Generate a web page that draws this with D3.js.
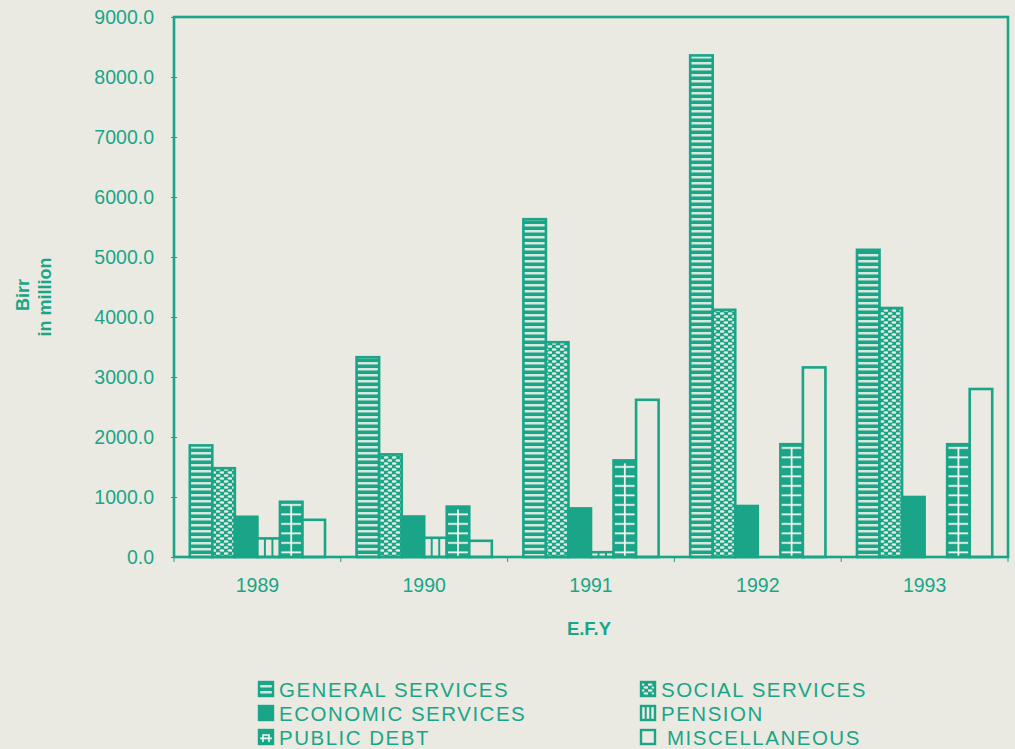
<!DOCTYPE html>
<html lang="en">
<head>
<meta charset="utf-8">
<title>Government expenditure by function</title>
<script src="https://cdn.jsdelivr.net/npm/d3@7"></script>
<style>
  body { margin: 0; background: #ebeae2; }
  svg { display: block; font-family: Arial, "Liberation Sans", sans-serif; }
</style>
</head>
<body>
<script>
// data (Birr in million)
var years = ["1989", "1990", "1991", "1992", "1993"];
var general = [1860, 3330, 5630, 8360, 5120];
var social = [1480, 1710, 3580, 4120, 4150];
var economic = [670, 675, 810, 850, 1000];
var pension = [310, 320, 80, 0, 0];
var publicDebt = [920, 840, 1610, 1880, 1880];
var misc = [620, 270, 2620, 3160, 2800];
var yTicks = [0, 1000, 2000, 3000, 4000, 5000, 6000, 7000, 8000, 9000];

var series = [
  { key: "general", name: "GENERAL SERVICES", values: general },
  { key: "social", name: "SOCIAL SERVICES", values: social },
  { key: "economic", name: "ECONOMIC SERVICES", values: economic },
  { key: "pension", name: "PENSION", values: pension },
  { key: "debt", name: "PUBLIC DEBT", values: publicDebt },
  { key: "misc", name: "MISCELLANEOUS", values: misc }
];

var teal = "#1aa588", paper = "#ebeae2";
var w = 1015, h = 749;
// plot box (note: "top" is taken by window.top, hence the prefix)
var plotL = 174, plotR = 1008, plotT = 17, plotB = 557;

var svg = d3.select("body").append("svg").attr("width", w).attr("height", h);
var defs = svg.append("defs");

// general services: light horizontal stripes on teal
var pg = defs.append("pattern").attr("id", "p-general")
  .attr("patternUnits", "userSpaceOnUse").attr("width", 6).attr("height", 6);
pg.append("rect").attr("width", 6).attr("height", 6).attr("fill", teal);
pg.append("rect").attr("y", 2).attr("width", 6).attr("height", 2.5).attr("fill", "#d6e9df");

// social services: light ovals on teal, staggered
var ps = defs.append("pattern").attr("id", "p-social")
  .attr("patternUnits", "userSpaceOnUse").attr("width", 8).attr("height", 6);
ps.append("rect").attr("width", 8).attr("height", 6).attr("fill", teal);
ps.append("ellipse").attr("cx", 2).attr("cy", 1.5).attr("rx", 2.6).attr("ry", 1.35).attr("fill", paper);
ps.append("ellipse").attr("cx", 6).attr("cy", 4.5).attr("rx", 2.6).attr("ry", 1.35).attr("fill", paper);

// public debt: white horizontal lines on teal (vertical centre line added per bar)
var pd = defs.append("pattern").attr("id", "p-debt")
  .attr("patternUnits", "userSpaceOnUse").attr("width", 6).attr("height", 9.5)
  .attr("y", plotB);
pd.append("rect").attr("width", 6).attr("height", 9.5).attr("fill", teal);
pd.append("rect").attr("y", 4).attr("width", 6).attr("height", 1.8).attr("fill", "#f4f4ee");

var fills = {
  general: "url(#p-general)", social: "url(#p-social)", economic: teal,
  pension: paper, debt: "url(#p-debt)", misc: paper
};

var x = d3.scaleBand().domain(years).range([plotL, plotR]);
var xs = d3.scaleBand().domain(series.map(function(s) { return s.key; }))
  .range([0, x.bandwidth()]).paddingOuter(0.7);
var y = d3.scaleLinear().domain([0, 9000]).range([plotB, plotT]);

// bars
var bars = [];
series.forEach(function(s) {
  s.values.forEach(function(v, i) {
    if (v > 0) bars.push({ key: s.key, year: years[i], value: v });
  });
});

var g = svg.append("g");
g.selectAll("rect.bar").data(bars).enter().append("rect")
  .attr("class", "bar")
  .attr("x", function(d) { return x(d.year) + xs(d.key); })
  .attr("y", function(d) { return y(d.value); })
  .attr("width", xs.bandwidth())
  .attr("height", function(d) { return plotB - y(d.value); })
  .attr("fill", function(d) { return fills[d.key]; })
  .attr("stroke", teal).attr("stroke-width", 2.6);

// pension: two vertical teal lines inside
var pen = bars.filter(function(d) { return d.key == "pension"; });
[1 / 3, 2 / 3].forEach(function(f) {
  g.selectAll(null).data(pen).enter().append("line")
    .attr("x1", function(d) { return x(d.year) + xs(d.key) + xs.bandwidth() * f; })
    .attr("x2", function(d) { return x(d.year) + xs(d.key) + xs.bandwidth() * f; })
    .attr("y1", function(d) { return y(d.value); })
    .attr("y2", plotB)
    .attr("stroke", teal).attr("stroke-width", 2);
});

// public debt: white centre line
var debt = bars.filter(function(d) { return d.key == "debt"; });
g.selectAll(null).data(debt).enter().append("line")
  .attr("x1", function(d) { return x(d.year) + xs(d.key) + xs.bandwidth() / 2; })
  .attr("x2", function(d) { return x(d.year) + xs(d.key) + xs.bandwidth() / 2; })
  .attr("y1", function(d) { return y(d.value) + 3; })
  .attr("y2", plotB - 1)
  .attr("stroke", "#f4f4ee").attr("stroke-width", 1.8);

// frame
svg.append("rect").attr("x", plotL).attr("y", plotT)
  .attr("width", plotR - plotL).attr("height", plotB - plotT)
  .attr("fill", "none").attr("stroke", teal).attr("stroke-width", 2.6);

// y axis
var yAxis = d3.axisLeft(y).tickValues(yTicks).tickFormat(d3.format(".1f"))
  .tickSize(3).tickPadding(17);
var ya = svg.append("g").attr("transform", "translate(" + plotL + ",0)").call(yAxis);
ya.select(".domain").remove();
ya.selectAll(".tick line").attr("x1", -3).attr("x2", 3).attr("stroke", teal).attr("stroke-width", 1);
ya.selectAll(".tick text").attr("fill", teal).attr("font-size", 19.5)
  .attr("font-family", "Arial, 'Liberation Sans', sans-serif");

// x axis
var xAxis = d3.axisBottom(x).tickSize(0).tickPadding(21);
var xa = svg.append("g").attr("transform", "translate(0," + plotB + ")").call(xAxis);
xa.select(".domain").remove();
xa.selectAll(".tick text").attr("fill", teal).attr("font-size", 19.5)
  .attr("font-family", "Arial, 'Liberation Sans', sans-serif");
// small ticks between the years
var edges = years.map(function(d) { return x(d); }).concat([plotR]);
xa.selectAll("line.edge").data(edges).enter().append("line")
  .attr("class", "edge")
  .attr("x1", function(d) { return d; }).attr("x2", function(d) { return d; })
  .attr("y1", 0).attr("y2", 5)
  .attr("stroke", teal).attr("stroke-width", 1);

// axis titles
svg.append("text").attr("x", 589).attr("y", 635).attr("text-anchor", "middle")
  .attr("fill", teal).attr("font-weight", "bold").attr("font-size", 18.5).text("E.F.Y");
svg.append("text").attr("transform", "translate(29,295) rotate(-90)").attr("text-anchor", "middle")
  .attr("fill", teal).attr("font-weight", "bold").attr("font-size", 18).text("Birr");
svg.append("text").attr("transform", "translate(51,297) rotate(-90)").attr("text-anchor", "middle")
  .attr("fill", teal).attr("font-weight", "bold").attr("font-size", 18).text("in million");

// legend
var legendPos = {
  general: [258, 689], economic: [258, 713], debt: [258, 737],
  social: [640, 689], pension: [640, 713], misc: [640, 737]
};
var lg = svg.append("g").selectAll("g").data(series).enter().append("g")
  .attr("transform", function(d) { return "translate(" + legendPos[d.key][0] + "," + legendPos[d.key][1] + ")"; });
lg.append("rect").attr("x", 1).attr("y", -7).attr("width", 14).attr("height", 14)
  .attr("fill", function(d) { return fills[d.key]; })
  .attr("stroke", teal).attr("stroke-width", 2.4);
lg.filter(function(d) { return d.key == "pension"; }).selectAll("line")
  .data([5.7, 10.3]).enter().append("line")
  .attr("x1", function(d) { return d; }).attr("x2", function(d) { return d; })
  .attr("y1", -7).attr("y2", 7).attr("stroke", teal).attr("stroke-width", 2);
lg.filter(function(d) { return d.key == "debt"; }).append("path")
  .attr("d", "M5,5V-2H11V5").attr("fill", "none").attr("stroke", "#f4f4ee").attr("stroke-width", 1.6);
lg.append("text")
  .attr("x", function(d) { return d.key == "misc" ? 27 : 21; })
  .attr("y", 8)
  .attr("fill", teal).attr("font-size", 20.5).attr("letter-spacing", 1.5)
  .text(function(d) { return d.name; });
</script>
</body>
</html>
